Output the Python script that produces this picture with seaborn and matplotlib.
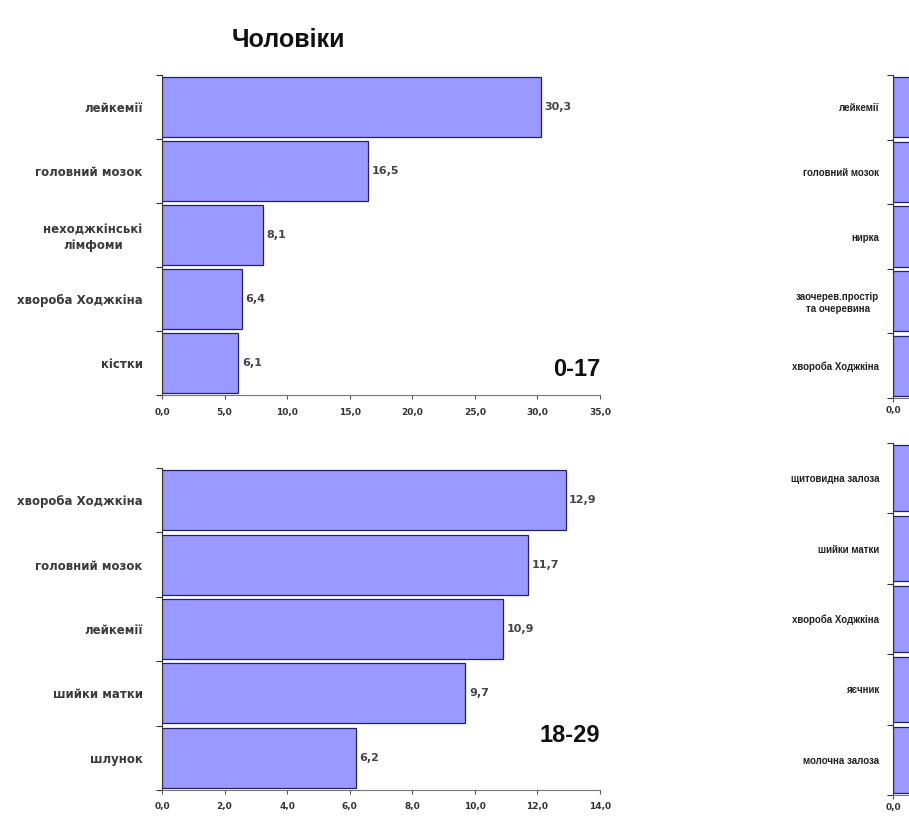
import matplotlib
matplotlib.use("Agg")
import matplotlib.pyplot as plt
import seaborn as sns
import pandas as pd

# data
men_017_labels = ["лейкемії", "головний мозок", "неходжкінські\nлімфоми", "хвороба Ходжкіна", "кістки"]
men_017_values = [30.3, 16.5, 8.1, 6.4, 6.1]
men_1829_labels = ["хвороба Ходжкіна", "головний мозок", "лейкемії", "шийки матки", "шлунок"]
men_1829_values = [12.9, 11.7, 10.9, 9.7, 6.2]
# right-hand panels are cut off in the picture, only the start of the bars shows
women_017_labels = ["лейкемії", "головний мозок", "нирка", "заочерев.простір\nта очеревина", "хвороба Ходжкіна"]
women_017_values = [25.0, 17.5, 9.0, 7.0, 6.5]
women_1829_labels = ["щитовидна залоза", "шийки матки", "хвороба Ходжкіна", "яєчник", "молочна залоза"]
women_1829_values = [14.0, 12.0, 11.0, 8.0, 7.0]

sns.set_style("ticks")
plt.rcParams['font.family'] = ['DejaVu Sans']

W, H = 909, 816
fig = plt.figure(figsize=(W / 100, H / 100), dpi=100)

bar_color = "#9999FF"
edge_color = "#22226a"


def fmt(v):
    return f"{v:.1f}".replace(".", ",")


def panel(rect_px, labels, values, xmax, step, tag=None, tag_y=None, cut=False):
    x0, y0, x1, y1 = rect_px
    ax = fig.add_axes([x0 / W, 1 - y1 / H, (x1 - x0) / W, (y1 - y0) / H])
    df = pd.DataFrame({"cat": labels, "val": values})
    sns.barplot(data=df, x="val", y="cat", orient="h", color=bar_color,
                edgecolor=edge_color, linewidth=0.9, width=0.93, saturation=1, ax=ax)
    ax.set_xlim(0, xmax)
    ax.set_ylim(len(labels) - 0.5, -0.5)
    ticks = [i * step for i in range(int(round(xmax / step)) + 1)]
    ax.set_xticks(ticks)
    # the right-hand panels run off the page: only their first tick label is seen
    tick_text = [fmt(t) if (not cut or t == 0) else "" for t in ticks]
    ax.set_xticklabels(tick_text, fontsize=6.5, fontweight="bold", color="#333333")
    ax.set_yticks(range(len(labels)))
    if cut:
        ax.set_yticklabels(labels, fontsize=7, fontweight="bold", color="#222222",
                           multialignment="center", family="Liberation Sans")
    else:
        ax.set_yticklabels(labels, fontsize=8.5, fontweight="bold", color="#3a3a3a",
                           multialignment="center")
    ax.set_yticks([i - 0.5 for i in range(len(labels) + 1)], minor=True)
    ax.tick_params(axis="y", which="major", length=0, pad=10 if cut else 14)
    ax.tick_params(axis="y", which="minor", length=4, width=0.8, direction="out", color="#333333")
    ax.tick_params(axis="x", length=3, width=0.8, color="#555555", pad=3 if cut else 6)
    ax.set_xlabel("")
    ax.set_ylabel("")
    sns.despine(ax=ax)
    ax.spines["left"].set_color("#333333")
    ax.spines["bottom"].set_color("#777777")
    if not cut:
        for i, v in enumerate(values):
            ax.text(v + xmax * 0.008, i, fmt(v), va="center", ha="left", fontsize=8,
                    fontweight="bold", color="#444444")
    if tag:
        ax.text(1.0, tag_y, tag, transform=ax.transAxes, ha="right", va="center",
                fontsize=17, fontweight="bold", color="#111111",
                family=["Liberation Sans", "DejaVu Sans"])
    return ax


panel((162, 75, 600, 395), men_017_labels, men_017_values, 35, 5, "0-17", 0.08)
panel((162, 468, 600, 790), men_1829_labels, men_1829_values, 14, 2, "18-29", 0.17)
panel((893, 75, 1331, 398), women_017_labels, women_017_values, 35, 5, cut=True)
panel((893, 443, 1331, 795), women_1829_labels, women_1829_values, 14, 2, cut=True)

fig.text(288 / W, 1 - 40 / H, "Чоловіки", ha="center", va="center",
         fontsize=18, fontweight="bold", color="#111111",
         family=["Liberation Sans", "DejaVu Sans"])

fig.savefig("out.png", dpi=100, facecolor="white")
